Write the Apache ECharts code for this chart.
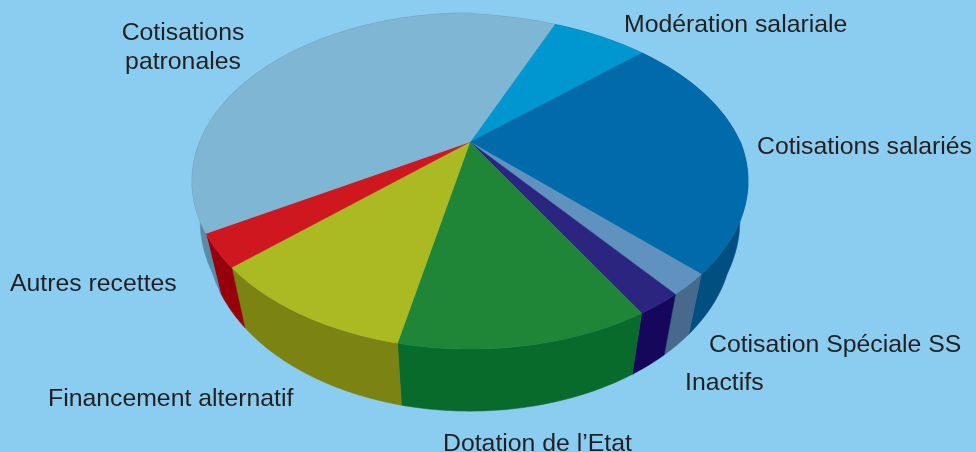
<!DOCTYPE html>
<html>
<head>
<meta charset="utf-8">
<style>html,body{margin:0;padding:0;background:#8bcdf0}#c{width:976px;height:452px}</style>
<script src="https://cdn.jsdelivr.net/npm/echarts@6/dist/echarts.min.js"></script>
</head>
<body>
<div id="c"></div>
<script>
// Data (clockwise, starting at the Modération salariale slice)
const categories = ['Modération salariale','Cotisations salariés','Cotisation Spéciale SS','Inactifs','Dotation de l’Etat','Financement alternatif','Autres recettes','Cotisations\npatronales'];
const shares = [6.95, 24.1, 2.05, 2.2, 11.8, 10.05, 3.15, 39.7];

// Styles
const topColors  = ['#0096cf','#006aaa','#6092bf','#2b2580','#1f8537','#abb923','#ce171e','#7eb6d3'];
const sideColors = ['#0078a8','#004f80','#46698c','#15075c','#086b2c','#7b8313','#96000c','#5a8ba8'];

// Layout: projection of the tilted disc and label anchors
const apexX = 470, apexY = 142, radX = 270.4, radY = 159, persp = 0.232, startDeg = 22.4, rimFlatten = 4;
const sideScaleMin = 0.945, sideScaleSlope = 0.0006, sideScaleRef = 215;
const sideDrop = 60, sideDropSlope = 0.025, sideDropRef = 265;
const labelAnchors = [
  {x:624, y:25, align:'left'},
  {x:757, y:147, align:'left'},
  {x:709, y:345, align:'left'},
  {x:685, y:383, align:'left'},
  {x:443, y:444, align:'left'},
  {x:48,  y:399, align:'left'},
  {x:10,  y:284, align:'left'},
  {x:183, y:48,  align:'center'}
];

const total = shares.reduce((a,b)=>a+b,0);
function rimPoint(deg){
  const t = deg*Math.PI/180, u = Math.sin(t), v = -Math.cos(t), w = 1 - persp*v;
  // the upper-right quarter of the reference rim is slightly flatter than a true ellipse
  const flat = (u > 0 && v < 0) ? rimFlatten*Math.sqrt(2*u*(-v)) : 0;
  return [apexX + radX*u/w, apexY + radY*v/w + flat];
}
function lowerPoint(p){
  const s = sideScaleMin + Math.max(0, sideScaleRef-p[1])*sideScaleSlope;
  return [apexX + s*(p[0]-apexX), p[1] + sideDrop + sideDropSlope*(p[1]-sideDropRef)];
}
function sliceRim(i){
  let before = 0;
  for (let k=0;k<i;k++) before += shares[k];
  const a0 = startDeg + before/total*360, a1 = a0 + shares[i]/total*360;
  const pts = [];
  const n = Math.max(2, Math.ceil((a1-a0)/0.75));
  for (let k=0;k<=n;k++) pts.push(rimPoint(a0+(a1-a0)*k/n));
  return pts;
}
const sideItem = (params, api) => {
  const i = params.dataIndex, rim = sliceRim(i);
  const low = rim.map(lowerPoint).reverse();
  return {type:'polygon', shape:{points:rim.concat(low)},
    style:{fill:sideColors[i], stroke:sideColors[i], lineWidth:0.5}};
};
const topItem = (params, api) => {
  const i = params.dataIndex;
  return {type:'polygon', shape:{points:[[apexX,apexY]].concat(sliceRim(i))},
    style:{fill:topColors[i], stroke:topColors[i], lineWidth:0.4}};
};
const labelItem = (params, api) => {
  const i = params.dataIndex, l = labelAnchors[i];
  return {type:'text', style:{text:categories[i], x:l.x, y:l.y, align:l.align, verticalAlign:'middle',
    fill:'#231f20', font:'24.8px "Liberation Sans", Arial, sans-serif', lineHeight:29}};
};
const chart = echarts.init(document.getElementById('c'), null, {renderer:'canvas', width:976, height:452});
chart.setOption({
  animation:false,
  backgroundColor:'#8bcdf0',
  series:[
    {type:'custom', coordinateSystem:'none', z:1, silent:true, data:shares, renderItem:sideItem},
    {type:'custom', coordinateSystem:'none', z:2, silent:true, data:shares, renderItem:topItem},
    {type:'custom', coordinateSystem:'none', z:3, silent:true, data:shares, renderItem:labelItem}
  ]
});
</script>
</body>
</html>
